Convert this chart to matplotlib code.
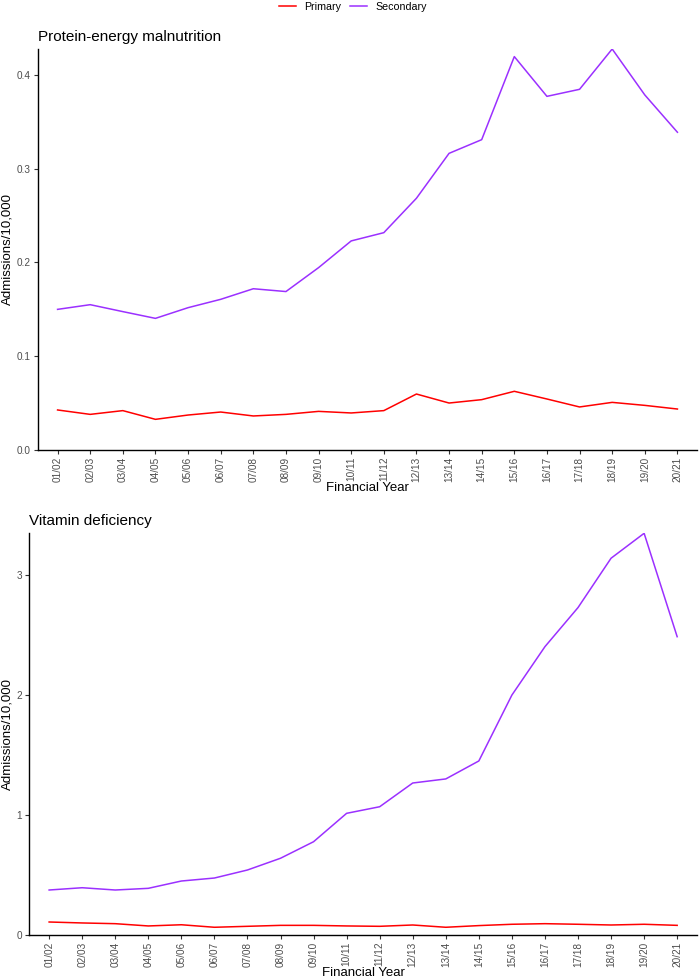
import numpy as np
import matplotlib
matplotlib.use("Agg")
import matplotlib.pyplot as plt

plt.rcParams['font.family'] = ['Liberation Sans', 'DejaVu Sans']

years = ["01/02", "02/03", "03/04", "04/05", "05/06", "06/07", "07/08", "08/09", "09/10", "10/11",
         "11/12", "12/13", "13/14", "14/15", "15/16", "16/17", "17/18", "18/19", "19/20", "20/21"]

# Protein-energy malnutrition
pem_primary = [0.0427, 0.0380, 0.0420, 0.0327, 0.0373, 0.0405, 0.0363, 0.0380, 0.0412, 0.0395,
               0.0420, 0.0597, 0.0501, 0.0537, 0.0626, 0.0544, 0.0459, 0.0508, 0.0476, 0.0437]
pem_secondary = [0.150, 0.155, 0.1476, 0.1404, 0.1518, 0.1607, 0.172, 0.169, 0.1945, 0.223,
                 0.2318, 0.2685, 0.3164, 0.331, 0.4196, 0.3772, 0.3847, 0.4277, 0.3787, 0.3389]

# Vitamin deficiency
vit_primary = [0.106, 0.098, 0.092, 0.073, 0.083, 0.062, 0.070, 0.078, 0.078, 0.073,
               0.070, 0.081, 0.062, 0.076, 0.087, 0.092, 0.087, 0.081, 0.087, 0.078]
vit_secondary = [0.373, 0.392, 0.373, 0.387, 0.448, 0.473, 0.540, 0.638, 0.776, 1.013,
                 1.068, 1.266, 1.300, 1.450, 2.000, 2.404, 2.730, 3.142, 3.350, 2.487]

RED = "#FF0000"
PURPLE = "#9B30FF"
W, H = 699, 980

fig = plt.figure(figsize=(W / 100, H / 100), dpi=100)


def box(l, t, r, b):
    return [l / W, 1 - b / H, (r - l) / W, (b - t) / H]


def panel(l, t, r, b, title, prim, sec, yticks):
    ax = fig.add_axes(box(l, t, r, b))
    x = np.arange(len(years))
    ax.plot(x, prim, color=RED, lw=1.1, label="Primary")
    ax.plot(x, sec, color=PURPLE, lw=1.1, label="Secondary")
    ax.set_xlim(-0.6, len(years) - 1 + 0.6)
    ax.set_ylim(0, max(sec))
    ax.set_xticks(x)
    ax.set_xticklabels(years, rotation=90, fontsize=7.2, color="#4D4D4D")
    ax.set_yticks(yticks)
    ax.set_yticklabels([str(v) for v in yticks], fontsize=7.2, color="#4D4D4D")
    ax.tick_params(length=3, width=0.8, color="#333333", pad=2)
    for s in ["top", "right"]:
        ax.spines[s].set_visible(False)
    for s in ["left", "bottom"]:
        ax.spines[s].set_linewidth(1.0)
    ax.set_xlabel("Financial Year", fontsize=9.5, labelpad=0)
    ax.set_ylabel("Admissions/10,000", fontsize=9.5)
    ax.yaxis.set_label_coords((13 - l) / (r - l), 0.5)
    ax.set_title(title, loc="left", fontsize=11, pad=6)
    return ax


ax1 = panel(38, 49, 697, 450, "Protein-energy malnutrition", pem_primary, pem_secondary,
            [0.0, 0.1, 0.2, 0.3, 0.4])
ax2 = panel(29.3, 533.3, 697, 934.7, "Vitamin deficiency", vit_primary, vit_secondary,
            [0, 1, 2, 3])

h, l = ax1.get_legend_handles_labels()
fig.legend(h, l, loc="upper center", bbox_to_anchor=(0.505, 1.008), ncol=2, frameon=False,
           fontsize=7.7, handlelength=1.6, handletextpad=0.8, columnspacing=0.8)

fig.savefig("out.png", dpi=100)
